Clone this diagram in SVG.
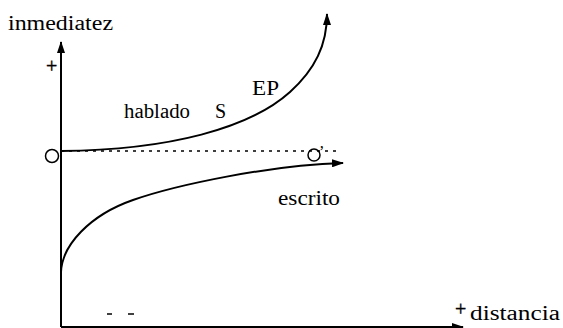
<svg xmlns="http://www.w3.org/2000/svg" width="563" height="328" viewBox="0 0 563 328">
<style>
.t{font-family:'Liberation Serif','DejaVu Serif',serif;font-size:20px;fill:#000}
.p{font-family:'Liberation Serif','DejaVu Serif',serif;font-size:20px;fill:#000;stroke:#000;stroke-width:0.4}
.ln{fill:none;stroke:#000;stroke-width:2}
</style>
<defs>
<marker id="ah" markerWidth="12" markerHeight="8" refX="11" refY="4" orient="auto" markerUnits="userSpaceOnUse">
<path d="M0,0 L12,4 L0,8 Z" fill="#000"/>
</marker>
</defs>
<rect width="563" height="328" fill="#fff"/>
<g id="connectors">
<path id="y-axis" class="ln" d="M61,327 L61,42" marker-end="url(#ah)"/>
<path id="x-axis" class="ln" d="M61,327 L463,327" marker-end="url(#ah)"/>
<path id="hablado-curve" class="ln" d="M61,151 C170,150 250,128 290,92 C315,69.5 327,45 327,14" marker-end="url(#ah)"/>
<path id="escrito-curve" class="ln" d="M61,272 C62,245 90,215 133,200 C176,185 270,165 343,163" marker-end="url(#ah)"/>
<path id="dotted" fill="none" stroke="#000" stroke-width="1.3" stroke-dasharray="3,5" d="M61,151 L340,151"/>
</g>
<g id="labels">
<text class="t" x="8" y="30" textLength="105" lengthAdjust="spacingAndGlyphs">inmediatez</text>
<text class="p" x="46" y="73">+</text>
<text class="t" x="124" y="118" textLength="66" lengthAdjust="spacingAndGlyphs">hablado</text>
<text class="t" x="215" y="118">S</text>
<text class="t" x="252" y="95" textLength="27" lengthAdjust="spacingAndGlyphs">EP</text>
<text class="t" x="278" y="205" textLength="62" lengthAdjust="spacingAndGlyphs">escrito</text>
<text class="p" x="455" y="316">+</text>
<text class="t" x="470" y="320" textLength="90" lengthAdjust="spacingAndGlyphs">distancia</text>
</g>
<g id="node-O">
<circle cx="52" cy="156" r="6.5" fill="#fff" stroke="#000" stroke-width="1.5"/>
</g>
<g id="node-Oprime">
<circle cx="314" cy="155" r="6" fill="none" stroke="#000" stroke-width="1.5"/>
<text class="t" x="319" y="157" style="font-size:16px">’</text>
</g>
<g id="minus-marks">
<line x1="107" y1="314" x2="112" y2="314" stroke="#000" stroke-width="1.5"/>
<line x1="128" y1="314" x2="134" y2="314" stroke="#000" stroke-width="1.5"/>
</g>
</svg>
